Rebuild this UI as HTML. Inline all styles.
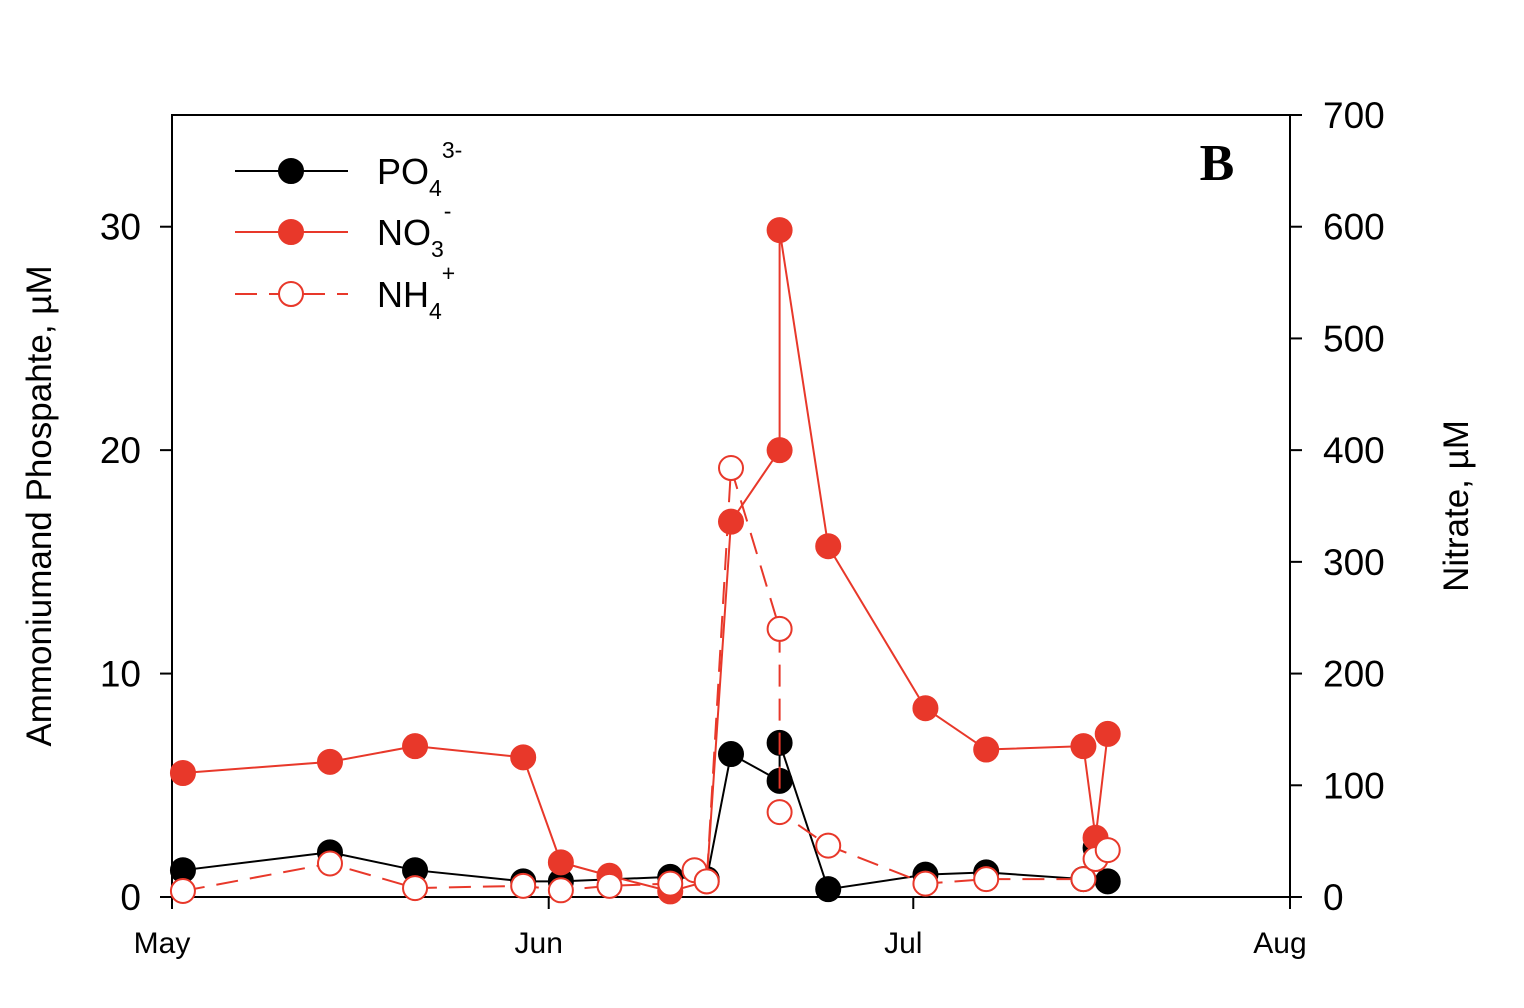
<!DOCTYPE html>
<html><head><meta charset="utf-8"><style>
html,body{margin:0;padding:0;background:#fff;}
svg{display:block;font-family:"Liberation Sans",sans-serif;}
</style></head><body>
<svg id="chart" width="1524" height="1008"></svg>
<script>
const po4Days=[0.9,13,20,28.9,32,41,44,46,50,50,54,62,67,75,76,77];
const po4=[1.2,2.0,1.2,0.7,0.7,0.9,0.8,6.4,5.2,6.9,0.35,1.0,1.1,0.8,2.2,0.7];
const no3Days=[0.9,13,20,28.9,32,36,41,44,46,50,50,54,62,67,75,76,77];
const no3=[111,121,135,125,31,19,5,14,336,400,597,314,169,132,135,53,146];
const nh4Days=[0.9,13,20,28.9,32,36,41,43,44,46,50,50,54,62,67,75,76,77];
const nh4=[0.27,1.5,0.4,0.5,0.3,0.5,0.6,1.2,0.7,19.2,12.0,3.8,2.3,0.6,0.8,0.8,1.7,2.1];
const xTicks=[0,31,61,92];
const xLabels=["May","Jun","Jul","Aug"];
const leftTicks=[0,10,20,30];
const rightTicks=[0,100,200,300,400,500,600,700];

const L=172,R=1290,T=115,B=897;
const x=d=>L+d*(R-L)/92;
const yl=v=>B-v*(B-T)/35;
const yr=v=>B-v*(B-T)/700;
const svg=document.getElementById('chart');
const NS='http://www.w3.org/2000/svg';
function mk(tag,a,txt){const e=document.createElementNS(NS,tag);for(const k in a)e.setAttribute(k,a[k]);if(txt!==undefined)e.textContent=txt;svg.appendChild(e);return e;}

let e=mk('rect',{x:L,y:T,width:R-L,height:B-T,fill:'none',stroke:'#000','stroke-width':2});


xTicks.forEach((d,i)=>{
  mk('line',{x1:x(d),x2:x(d),y1:B,y2:B+12,stroke:'#000','stroke-width':2});
  const t=mk('text',{x:x(d)-10,y:B+56,'font-size':30,'text-anchor':'middle'},xLabels[i]);
  
  
});
leftTicks.forEach(v=>{
  mk('line',{x1:L-12,x2:L,y1:yl(v),y2:yl(v),stroke:'#000','stroke-width':2});
  const t=mk('text',{x:L-31,y:yl(v)+13,'font-size':37,'text-anchor':'end'},v);
  
  
});
rightTicks.forEach(v=>{
  mk('line',{x1:R,x2:R+12,y1:yr(v),y2:yr(v),stroke:'#000','stroke-width':2});
  const t=mk('text',{x:R+33,y:yr(v)+13,'font-size':37},v);
  
  
});
e=mk('text',{x:0,y:0,'font-size':35,'text-anchor':'middle',transform:'translate(51,506) rotate(-90)'},'Ammoniumand Phospahte, µM');


e=mk('text',{x:0,y:0,'font-size':35,'text-anchor':'middle',transform:'translate(1468,506) rotate(-90)'},'Nitrate, µM');


e=mk('text',{x:1217,y:180,'font-size':52,'font-weight':'bold','font-family':'Liberation Serif,serif','text-anchor':'middle'},'B');



function series(ds,vs,yf,color,dash,open,name){
  const pts=ds.map((d,i)=>x(d)+','+yf(vs[i])).join(' ');
  const p=mk('polyline',{points:pts,fill:'none',stroke:color,'stroke-width':2,'stroke-dasharray':dash||'none'});
  
  
  ds.forEach((d,i)=>{
    const c=mk('circle',{cx:x(d),cy:yf(vs[i]),r:12,fill:open?'#fff':color,stroke:color,'stroke-width':2});
    
    
  });
}
series(po4Days,po4,yl,'#000','',false,'po4');
series(no3Days,no3,yr,'#e8382a','',false,'no3');
series(nh4Days,nh4,yl,'#e8382a','22,12',true,'nh4');

const leg=[{y:171,c:'#000',o:false,d:'',t:'PO',s:'4',sup:'3-'},{y:232,c:'#e8382a',o:false,d:'',t:'NO',s:'3',sup:'-'},{y:294,c:'#e8382a',o:true,d:'22,12',t:'NH',s:'4',sup:'+'}];
leg.forEach(l=>{
  mk('line',{x1:235,x2:348,y1:l.y,y2:l.y,stroke:l.c,'stroke-width':2,'stroke-dasharray':l.d||'none'});
  mk('circle',{cx:291,cy:l.y,r:12,fill:l.o?'#fff':l.c,stroke:l.c,'stroke-width':2});
  const t=mk('text',{x:377,y:l.y+13,'font-size':36},'');
  t.innerHTML=l.t+'<tspan font-size="23" dy="12">'+l.s+'</tspan><tspan font-size="23" dy="-38">'+l.sup+'</tspan>';
  
  
});
</script>
</body></html>
